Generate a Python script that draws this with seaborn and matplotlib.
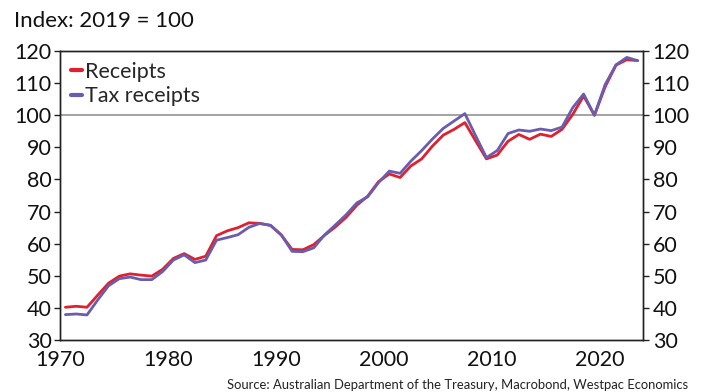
import numpy as np
import pandas as pd
import matplotlib
matplotlib.use("Agg")
import matplotlib.pyplot as plt
import seaborn as sns

# Fiscal years (plotted at mid-year)
years = list(range(1970, 2024))

receipts = [40.2, 40.5, 40.2, 44.0, 47.7, 49.9, 50.6, 50.2, 49.9, 52.0,
            55.4, 56.9, 55.1, 56.1, 62.5, 64.0, 65.0, 66.5, 66.3, 65.7,
            62.7, 58.2, 58.1, 59.7, 62.6, 65.2, 68.2, 72.0, 74.8, 79.3,
            81.7, 80.6, 84.2, 86.4, 90.4, 93.8, 95.6, 97.7, 92.0, 86.4,
            87.6, 91.9, 94.0, 92.5, 94.1, 93.4, 95.6, 100.3, 106.0, 100.0,
            108.9, 115.6, 117.3, 117.0]

tax_receipts = [37.9, 38.1, 37.8, 42.5, 46.9, 49.1, 49.6, 48.8, 48.8, 51.3,
                54.9, 56.5, 54.1, 54.9, 61.1, 61.9, 62.8, 65.1, 66.3, 65.7,
                62.7, 57.6, 57.5, 58.7, 62.7, 65.8, 69.0, 72.7, 74.6, 79.0,
                82.6, 81.9, 85.7, 89.0, 92.6, 95.9, 98.2, 100.5, 93.6, 86.8,
                89.0, 94.3, 95.4, 95.0, 95.7, 95.2, 96.3, 102.4, 106.6, 100.0,
                109.6, 115.7, 118.0, 117.0]

series_names = ["Receipts", "Tax receipts"]
colors = {"Receipts": "#E0202E", "Tax receipts": "#6A5DB0"}

x_ticks = [1970, 1980, 1990, 2000, 2010, 2020]
y_ticks = [30, 40, 50, 60, 70, 80, 90, 100, 110, 120]

df = pd.DataFrame({
    "year": np.array(years, dtype=float) + 0.5,
    "Receipts": receipts,
    "Tax receipts": tax_receipts,
}).melt(id_vars="year", var_name="series", value_name="index")

sns.set_theme(style="white")
plt.rcParams["font.family"] = ["Lato", "DejaVu Sans"]

fig = plt.figure(figsize=(7.05, 3.92), dpi=100)
ax = fig.add_axes([60 / 705, 1 - 340 / 392, 583 / 705, 289 / 392])

ax.axhline(100, color="#8a8a8a", lw=1.1, zorder=1)

sns.lineplot(data=df, x="year", y="index", hue="series", hue_order=series_names,
             palette=colors, linewidth=2.0, ax=ax, zorder=3)
# keep the tax line on top
for line, z in zip(ax.get_lines()[1:], (3, 4)):
    line.set_zorder(z)

ax.set_xlim(1970, 2024)
ax.set_ylim(30, 120)
ax.set_xticks(x_ticks)
ax.set_yticks(y_ticks)
ax.set_xlabel("")
ax.set_ylabel("")

ax2 = ax.twinx()
ax2.set_ylim(30, 120)
ax2.set_yticks(y_ticks)

for a in (ax, ax2):
    for s in a.spines.values():
        s.set_color("#222222")
        s.set_linewidth(1.0)
    a.tick_params(axis="both", which="both", direction="out", length=4, width=1,
                  color="#222222", labelsize=15.5, labelcolor="#111111", pad=3)
ax.tick_params(axis="x", pad=3)
ax.tick_params(axis="y", pad=2)

leg = ax.legend(loc="upper left", frameon=False, fontsize=15.5, handlelength=0.5,
                handletextpad=0.15, borderaxespad=0.1, labelspacing=0.2,
                bbox_to_anchor=(0.0, 1.0))
for h in leg.get_lines():
    h.set_linewidth(3)

fig.text(14 / 705, 1 - 27 / 392, "Index: 2019 = 100", fontsize=16,
         color="#111111", ha="left", va="baseline")
fig.text(688 / 705, 1 - 389 / 392,
         "Source: Australian Department of the Treasury, Macrobond, Westpac Economics",
         fontsize=9.4, color="#222222", ha="right", va="baseline")

fig.savefig("out.png", dpi=100)
